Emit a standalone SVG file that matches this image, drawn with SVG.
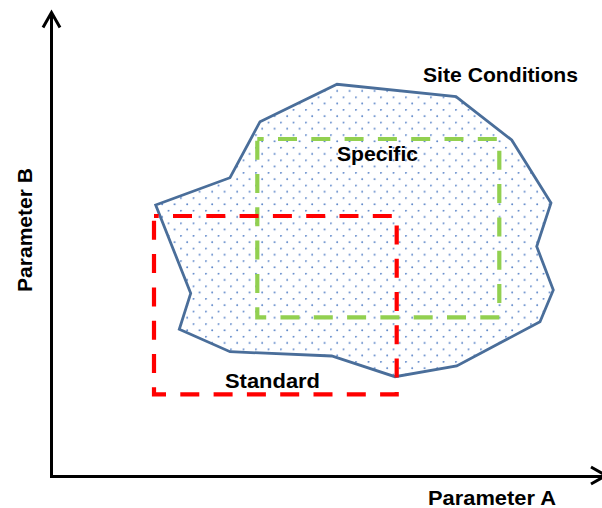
<svg xmlns="http://www.w3.org/2000/svg" width="602" height="508" viewBox="0 0 602 508">
<style>
  .lbl { font-family: "Liberation Sans", Arial, sans-serif; font-weight: bold; font-size: 20.5px; fill: #000; }
  .axis { fill: none; stroke: #000; stroke-width: 3; }
  .dash { fill: none; stroke-width: 4.2; stroke-dasharray: 19 14.3; }
</style>
<defs>
  <pattern id="dots" patternUnits="userSpaceOnUse" x="5.2" y="8.3" width="12.5" height="12.6">
    <circle cx="0.7" cy="0.7" r="0.95" fill="#4F7CC4"/>
    <circle cx="6.95" cy="7.0" r="0.95" fill="#4F7CC4"/>
  </pattern>
</defs>
<rect width="602" height="508" fill="#fff"/>
<g id="connectors">
  <path class="axis" d="M51.5,14 V476.5 H602"/>
  <path class="axis" d="M43,27.5 L51.5,12.5 L60,27.5"/>
  <path class="axis" d="M591,467 L606,475.5 L591,484"/>
</g>
<g id="site-conditions">
  <polygon points="155.7,205 230,177.7 260,121.7 337,84.3 456,96.7 511.7,140 551,203 536.7,246.5 553.3,290 540,321.7 456.7,366 395,376.7 331.7,356 230,351.7 179.3,329.3 190.7,293.3" fill="url(#dots)" stroke="#4A6E9A" stroke-width="2.8" stroke-linejoin="miter"/>
  <text class="lbl" x="423" y="82" textLength="155" lengthAdjust="spacingAndGlyphs">Site Conditions</text>
</g>
<g id="specific">
  <path class="dash" d="M257.3,139 H499.3 V317.3 H257.3 Z" stroke="#92D050" stroke-dashoffset="12.6"/>
  <text class="lbl" x="337" y="160.5" textLength="81" lengthAdjust="spacingAndGlyphs">Specific</text>
</g>
<g id="standard">
  <path class="dash" d="M154,216 H396.7 V394.3 H154 Z" stroke="#FF0000" stroke-width="4.6" stroke-dashoffset="14.3"/>
  <text class="lbl" x="225" y="388" textLength="95" lengthAdjust="spacingAndGlyphs">Standard</text>
</g>
<g id="axis-labels">
  <text class="lbl" x="428" y="505" textLength="128" lengthAdjust="spacingAndGlyphs">Parameter A</text>
  <text class="lbl" transform="translate(32,292) rotate(-90)" x="0" y="0" textLength="124" lengthAdjust="spacingAndGlyphs">Parameter B</text>
</g>
</svg>
